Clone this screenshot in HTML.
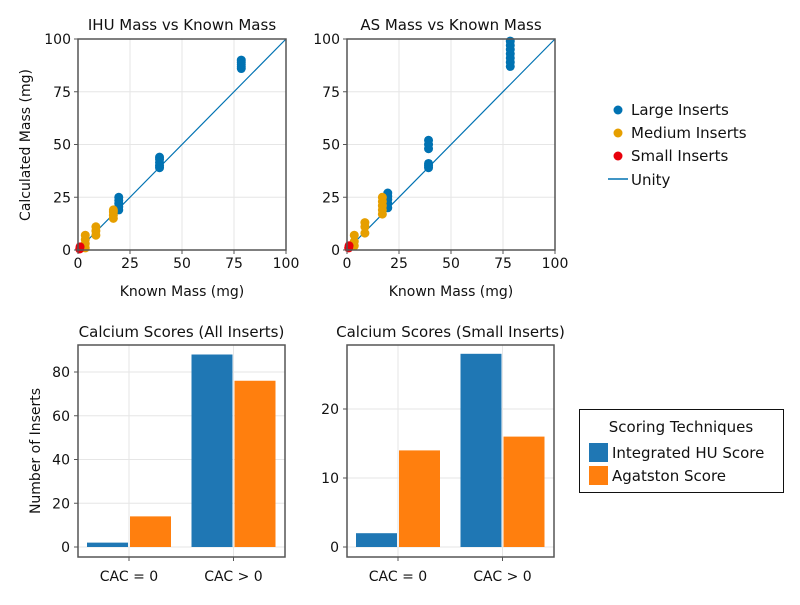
<!DOCTYPE html>
<html><head><meta charset="utf-8"><style>
body{margin:0;background:#fff;}
svg{font-family:"DejaVu Sans","Liberation Sans",sans-serif;}
</style></head><body>
<svg id="s" width="800" height="600" xmlns="http://www.w3.org/2000/svg"></svg>
<script>
// Scatter data: known mass, calculated mass
const ihuLargeX=[19.6,19.6,19.6,19.6,19.6,39.2,39.2,39.2,39.2,39.2,78.5,78.5,78.5,78.5,78.5];
const ihuLargeY=[19,20.5,22,23.5,25,39,40,41.5,43,44,86,87,88,89,90];
const ihuMedX=[3.5,3.5,3.5,3.5,8.6,8.6,8.6,17,17,17,17];
const ihuMedY=[1,3,5,7,7,9,11,15,16.5,18,19];
const ihuSmallX=[0.8,1];
const ihuSmallY=[0.5,1.5];
const asLargeX=[19.6,19.6,19.6,19.6,19.6,39.2,39.2,39.2,39.2,39.2,39.2,78.5,78.5,78.5,78.5,78.5,78.5,78.5];
const asLargeY=[20,22,24,25.5,27,39,40,41,48,50,52,87,89,91,93,95,97,99];
const asMedX=[3.5,3.5,3.5,8.6,8.6,8.6,17,17,17,17,17];
const asMedY=[2,4,7,8,11,13,17,19,21,23,25];
const asSmallX=[0.8,1];
const asSmallY=[1,2];
// Bar data
const barCats=["CAC = 0","CAC > 0"];
const allHU=[2,88];
const allAg=[14,76];
const smallHU=[2,28];
const smallAg=[14,16];
const allTicks=[0,20,40,60,80];
const smallTicks=[0,10,20];
const massTicks=[0,25,50,75,100];

const NS="http://www.w3.org/2000/svg";
const svg=document.getElementById('s');
function el(tag,attrs,parent){const e=document.createElementNS(NS,tag);for(const k in attrs)e.setAttribute(k,attrs[k]);(parent||svg).appendChild(e);return e;}
function txt(x,y,s,size,anchor,extra){const t=el('text',Object.assign({x:x,y:y,'font-size':size,'text-anchor':anchor||'middle',fill:'#111'},extra||{}));t.textContent=s;return t;}

const BLUE='#0072b2',ORANGE='#e69f00',RED='#e8000b';
function scatterPanel(x0,name,title,sets){
  const x1=x0+208,y0=39,y1=250;
  const g=el('g',{});
  
  
  const sx=v=>x0+(v/100)*(x1-x0), sy=v=>y1-(v/100)*(y1-y0);
  massTicks.forEach(t=>{
    el('line',{x1:sx(t),x2:sx(t),y1:y0,y2:y1,stroke:'#e6e6e6','stroke-width':1},g);
    el('line',{x1:x0,x2:x1,y1:sy(t),y2:sy(t),stroke:'#e6e6e6','stroke-width':1},g);
  });
  el('line',{x1:sx(0),y1:sy(0),x2:sx(100),y2:sy(100),stroke:BLUE,'stroke-width':1.2},g);
  sets.forEach(([xs,ys,c])=>{xs.forEach((v,i)=>{
    const p=el('circle',{cx:sx(v),cy:sy(ys[i]),r:4.5,fill:c},g);
    
    
  });});
  el('rect',{x:x0,y:y0,width:x1-x0,height:y1-y0,fill:'none',stroke:'#555','stroke-width':1.5},g);
  massTicks.forEach(t=>{
    el('line',{x1:sx(t),x2:sx(t),y1:y1,y2:y1+4,stroke:'#555'},g);
    el('line',{x1:x0-4,x2:x0,y1:sy(t),y2:sy(t),stroke:'#555'},g);
    txt(sx(t),y1+18,String(t),14);
    txt(x0-7,sy(t)+5,String(t),14,'end');
  });
  txt((x0+x1)/2,y0-9,title,15);
  txt((x0+x1)/2,y1+46,'Known Mass (mg)',14);
}
scatterPanel(78,'ihu-scatter','IHU Mass vs Known Mass',[[ihuLargeX,ihuLargeY,BLUE],[ihuMedX,ihuMedY,ORANGE],[ihuSmallX,ihuSmallY,RED]]);
scatterPanel(347,'as-scatter','AS Mass vs Known Mass',[[asLargeX,asLargeY,BLUE],[asMedX,asMedY,ORANGE],[asSmallX,asSmallY,RED]]);
txt(30,145,'Calculated Mass (mg)',14,'middle',{transform:'rotate(-90 30 145)'});

function barPanel(x0,name,title,hu,ag,ticks,max){
  const x1=x0+207,y0=345,y1=557,base=547;
  const g=el('g',{});
  
  
  const sy=v=>base-(v/max)*(base-360);
  const cx=i=>x0+51+i*104.5;
  ticks.forEach(t=>el('line',{x1:x0,x2:x1,y1:sy(t),y2:sy(t),stroke:'#e6e6e6'},g));
  barCats.forEach((c,i)=>el('line',{x1:cx(i),x2:cx(i),y1:y0,y2:y1,stroke:'#e6e6e6'},g));
  barCats.forEach((c,i)=>{
    const b1=el('rect',{x:cx(i)-42,y:sy(hu[i]),width:41,height:base-sy(hu[i]),fill:'#1f77b4'},g);
    
    
    const b2=el('rect',{x:cx(i)+1,y:sy(ag[i]),width:41,height:base-sy(ag[i]),fill:'#ff7f0e'},g);
    
    
    el('line',{x1:cx(i),x2:cx(i),y1:y1,y2:y1+4,stroke:'#555'},g);
    txt(cx(i),y1+24,c,14);
  });
  el('rect',{x:x0,y:y0,width:x1-x0,height:y1-y0,fill:'none',stroke:'#555','stroke-width':1.5},g);
  ticks.forEach(t=>{el('line',{x1:x0-4,x2:x0,y1:sy(t),y2:sy(t),stroke:'#555'},g);txt(x0-8,sy(t)+5,String(t),14,'end');});
  txt((x0+x1)/2,y0-8,title,15);
}
barPanel(78,'all-inserts-bars','Calcium Scores (All Inserts)',allHU,allAg,allTicks,80*(547-360)/(547-372));
barPanel(347,'small-inserts-bars','Calcium Scores (Small Inserts)',smallHU,smallAg,smallTicks,20*(547-360)/(547-409));
txt(40,451,'Number of Inserts',14,'middle',{transform:'rotate(-90 40 451)'});

// top legend
const lg=el('g',{});


[['Large Inserts',BLUE],['Medium Inserts',ORANGE],['Small Inserts',RED]].forEach((e,i)=>{
  el('circle',{cx:618,cy:110+i*23,r:4.5,fill:e[1]},lg);
  txt(631,115+i*23,e[0],15,'start');
});
el('line',{x1:608,x2:628,y1:179,y2:179,stroke:BLUE,'stroke-width':1.5},lg);
txt(631,185,'Unity',15,'start');

// bottom legend
const bl=el('g',{});


el('rect',{x:579.5,y:409.5,width:204,height:83,fill:'#fff',stroke:'#111'},bl);
txt(681,432,'Scoring Techniques',15);
el('rect',{x:589,y:443,width:19,height:19,fill:'#1f77b4'},bl);
txt(612,458,'Integrated HU Score',15,'start');
el('rect',{x:589,y:466,width:19,height:19,fill:'#ff7f0e'},bl);
txt(612,481,'Agatston Score',15,'start');
</script>
</body></html>
